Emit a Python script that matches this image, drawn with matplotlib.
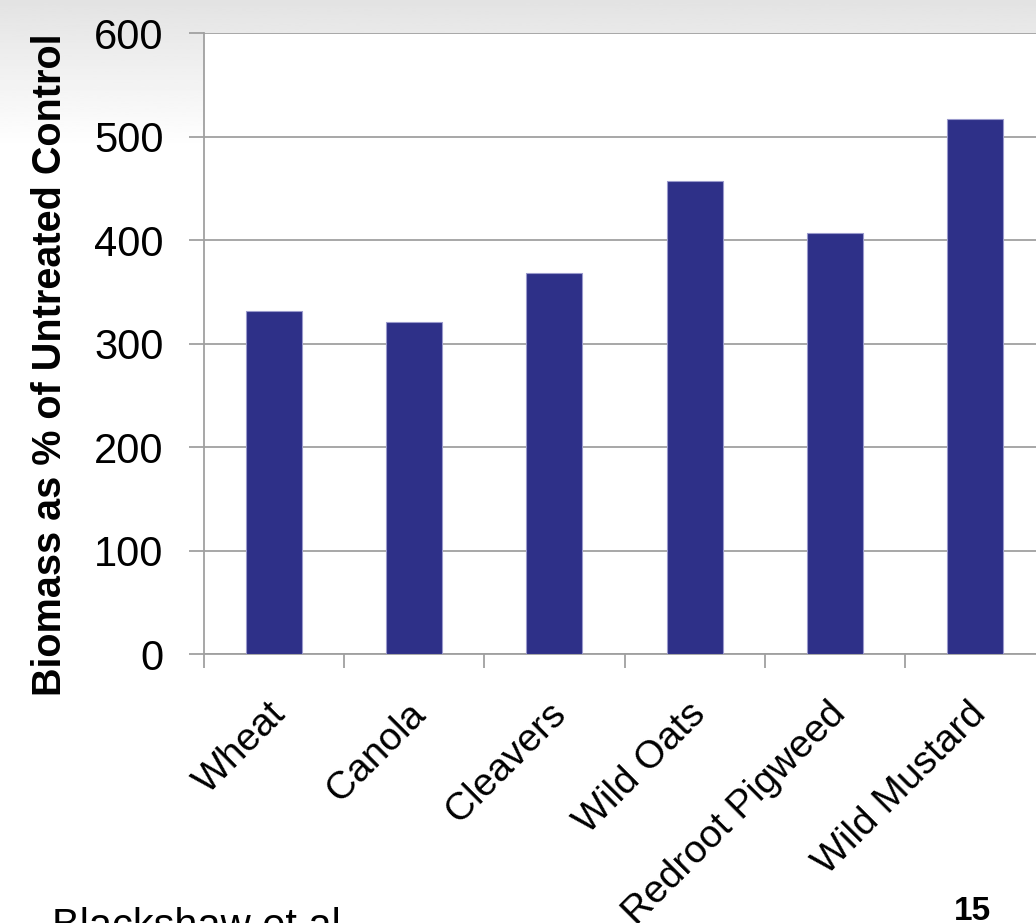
import numpy as np
import matplotlib.pyplot as plt
from matplotlib.transforms import ScaledTranslation

# values (biomass as % of untreated control)
species = ['Wheat', 'Canola', 'Cleavers', 'Wild Oats', 'Redroot Pigweed', 'Wild Mustard']
biomass = [331, 321, 368, 457, 407, 517]
yticks = [0, 100, 200, 300, 400, 500, 600]

sans = ['Liberation Sans', 'DejaVu Sans']

fig = plt.figure(figsize=(10.36, 9.23), dpi=100, facecolor='white')

# faint grey slide background at the top
bg = fig.add_axes([0, 0, 1, 1], zorder=-10)
grad = np.linspace(0.89, 1.0, 80)
grad = np.concatenate([grad, np.ones(420)])[:, None]
bg.imshow(grad, cmap='gray', vmin=0, vmax=1, aspect='auto', extent=[0, 1, 0, 1])
bg.axis('off')

ax = fig.add_axes([0.1969, 0.2914, 0.8118, 0.6728])
ax.set_facecolor('white')

x = np.arange(len(species))
ax.bar(x, biomass, width=0.4, color='#2E3088', edgecolor='#9A9ACC', linewidth=0.8, zorder=3)

ax.set_xlim(-0.5, len(species) - 0.5)
ax.set_ylim(0, 600)
ax.set_yticks(yticks)
ax.grid(axis='y', color='#A0A0A0', linewidth=1.3, zorder=0)

for side in ['top', 'right']:
    ax.spines[side].set_visible(False)
for side in ['left', 'bottom']:
    ax.spines[side].set_color('#A0A0A0')
    ax.spines[side].set_linewidth(1.3)

ax.tick_params(axis='y', length=11, width=1.3, color='#A0A0A0', pad=18, labelsize=30)
for lbl in ax.get_yticklabels():
    lbl.set_family(sans)

# category boundaries get the tick marks, centres get the labels
ax.set_xticks(np.arange(-0.5, len(species)), minor=True)
ax.set_xticks(x)
ax.set_xticklabels(species, rotation=45, ha='right', va='top', rotation_mode='anchor',
                   fontsize=28, family=sans)
ax.tick_params(axis='x', which='major', length=0, pad=30)
ax.tick_params(axis='x', which='minor', length=10, width=1.3, color='#A0A0A0')
shift = ScaledTranslation(-5 / 72, 0, fig.dpi_scale_trans)
for lbl in ax.get_xticklabels():
    lbl.set_transform(lbl.get_transform() + shift)

fig.text(0.048, 0.605, 'Biomass as % of Untreated Control', rotation=90,
         ha='center', va='center', fontsize=28.5, fontweight='bold', family=sans)

fig.text(0.05, -0.026, 'Blackshaw et al.', fontsize=30, family=sans, va='bottom')
fig.text(0.921, -0.004, '15', fontsize=24, fontweight='bold', family=sans, va='bottom')

fig.savefig('out.png', dpi=100, facecolor=fig.get_facecolor())
